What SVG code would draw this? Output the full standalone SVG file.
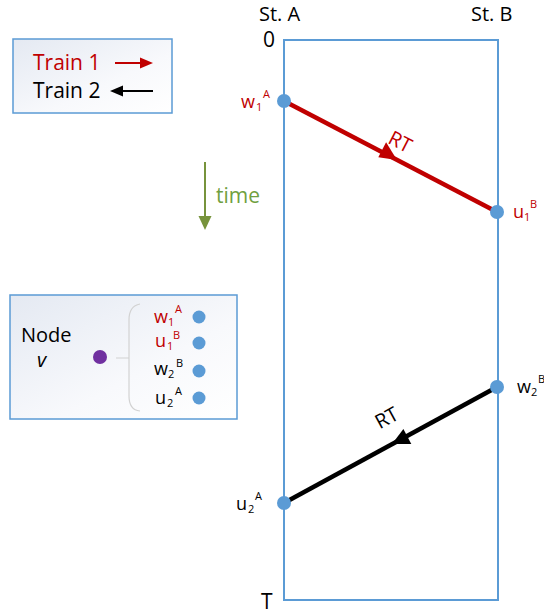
<svg xmlns="http://www.w3.org/2000/svg" width="544" height="615" viewBox="0 0 544 615">
<defs>
<linearGradient id="boxg" x1="0" y1="0" x2="1" y2="1">
<stop offset="0" stop-color="#e4e9f2"/>
<stop offset="0.6" stop-color="#f8f9fc"/>
<stop offset="1" stop-color="#ffffff"/>
</linearGradient>
<style>
text{font-family:"Open Sans","Liberation Sans",sans-serif;fill:#000}
.big{font-size:21px}
.mid{font-size:20px}
.lab{font-size:18px}
.rt{font-size:20px}
.sub{font-size:11px}
.red{fill:#c00000}
.dot{fill:#5b9bd5}
.box{fill:url(#boxg);stroke:#5b9bd5;stroke-width:1.5}
</style>
</defs>
<rect width="544" height="615" fill="#ffffff"/>

<g id="frame">
<rect x="284" y="40" width="214" height="560" fill="none" stroke="#5b9bd5" stroke-width="2"/>
<text class="mid" x="259" y="21">St. A</text>
<text class="mid" x="471" y="21">St. B</text>
<text class="big" x="263" y="47">0</text>
<text class="big" x="261" y="609">T</text>
</g>

<g id="legend">
<rect class="box" x="13" y="39" width="159" height="74"/>
<text class="big red" x="33" y="70">Train 1</text>
<text class="big" x="33" y="98">Train 2</text>
</g>

<g id="time">
<text class="big" x="216" y="203" style="fill:#70a040">time</text>
</g>

<g id="node-box">
<rect class="box" x="10" y="295" width="227" height="124"/>
<text class="mid" x="21" y="342">Node</text>
<text class="mid" x="37" y="367" font-style="italic">v</text>
<circle cx="100" cy="357" r="7" fill="#7030a0"/>
<path d="M116,358 H129 M140,304 Q129,306 129,320 L129,396 Q129,410 140,411" fill="none" stroke="#d2d2d2" stroke-width="1.2"/>
<circle class="dot" cx="199" cy="317" r="6.5"/>
<circle class="dot" cx="199" cy="343" r="6.5"/>
<circle class="dot" cx="199" cy="371" r="6.5"/>
<circle class="dot" cx="199" cy="398" r="6.5"/>
<text class="lab red" x="154" y="323">w</text><text class="sub red" x="168" y="326">1</text><text class="sub red" x="175" y="313">A</text>
<text class="lab red" x="155" y="347">u</text><text class="sub red" x="167" y="350">1</text><text class="sub red" x="173" y="339">B</text>
<text class="lab" x="154" y="375">w</text><text class="sub" x="168" y="378">2</text><text class="sub" x="176" y="367">B</text>
<text class="lab" x="155" y="404">u</text><text class="sub" x="167" y="407">2</text><text class="sub" x="175" y="395">A</text>
</g>

<g id="connectors">
<line x1="115" y1="63" x2="142" y2="63" stroke="#c00000" stroke-width="2"/>
<polygon points="153,63 140,57.5 140,68.5" fill="#c00000"/>
<line x1="120" y1="91" x2="153" y2="91" stroke="#000" stroke-width="2"/>
<polygon points="110,91 123,85.5 123,96.5" fill="#000"/>
<line x1="205" y1="162" x2="205" y2="218" stroke="#77933c" stroke-width="2"/>
<polygon points="205,230 198.5,216 211.5,216" fill="#77933c"/>
<line x1="284" y1="101" x2="497" y2="212" stroke="#c00000" stroke-width="4.5"/>
<polygon points="397,160 378.3,157.2 386.1,142.3" fill="#c00000"/>
<text class="rt red" x="0" y="0" text-anchor="middle" transform="translate(397,148) rotate(27.5)">RT</text>
<line x1="284" y1="503" x2="497" y2="387" stroke="#000" stroke-width="4.5"/>
<polygon points="392,444 403.4,429.1 411.3,443.9" fill="#000"/>
<text class="rt" x="0" y="0" text-anchor="middle" transform="translate(390,424) rotate(-28.6)">RT</text>
</g>

<g id="w1A">
<circle class="dot" cx="284" cy="101" r="7"/>
<text class="lab red" x="241" y="108">w</text><text class="sub red" x="256" y="111">1</text><text class="sub red" x="263" y="98">A</text>
</g>
<g id="u1B">
<circle class="dot" cx="497" cy="212" r="7"/>
<text class="lab red" x="513" y="218">u</text><text class="sub red" x="524" y="221">1</text><text class="sub red" x="530" y="208">B</text>
</g>
<g id="w2B">
<circle class="dot" cx="497" cy="387" r="7"/>
<text class="lab" x="517" y="393">w</text><text class="sub" x="531" y="396">2</text><text class="sub" x="538" y="383">B</text>
</g>
<g id="u2A">
<circle class="dot" cx="284" cy="503" r="7"/>
<text class="lab" x="236" y="510">u</text><text class="sub" x="248" y="513">2</text><text class="sub" x="255" y="500">A</text>
</g>
</svg>
